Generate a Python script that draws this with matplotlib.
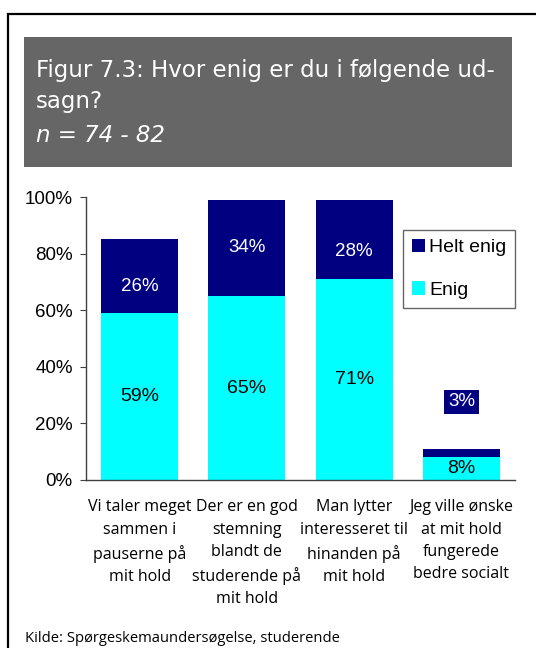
import matplotlib.pyplot as plt
import matplotlib.patches as mpatches
import numpy as np

categories = ['Vi taler meget\nsammen i\npauserne på\nmit hold',
              'Der er en god\nstemning\nblandt de\nstuderende på\nmit hold',
              'Man lytter\ninteresseret til\nhinanden på\nmit hold',
              'Jeg ville ønske\nat mit hold\nfungerede\nbedre socialt']
enig = [59, 65, 71, 8]
helt_enig = [26, 34, 28, 3]
yticks = [0, 20, 40, 60, 80, 100]

W, H = 536, 648
fig = plt.figure(figsize=(W / 100, H / 100), dpi=100)

def fx(x):
    return x / W

def fy(y):
    return 1 - y / H

# outer frame
fig.patches.append(mpatches.Rectangle((fx(8), fy(700)), fx(600), fy(14) - fy(700),
                                      transform=fig.transFigure, fill=False,
                                      edgecolor='black', linewidth=1.6))
# title box
fig.patches.append(mpatches.Rectangle((fx(24), fy(167)), fx(512) - fx(24), fy(37) - fy(167),
                                      transform=fig.transFigure, facecolor='#666666',
                                      edgecolor='none'))
tfont = 'DejaVu Sans'
lfont = 'Open Sans'
fig.text(fx(36), fy(77), 'Figur 7.3: Hvor enig er du i følgende ud-', color='white',
         fontsize=16.5, family=tfont, va='baseline')
fig.text(fx(36), fy(108), 'sagn?', color='white',
         fontsize=16.5, family=tfont, va='baseline')
fig.text(fx(36), fy(142), 'n = 74 - 82', color='white',
         fontsize=16.5, family=tfont, style='italic', va='baseline')

ax = fig.add_axes([fx(86), fy(480), fx(515) - fx(86), fy(197) - fy(480)])
x = np.arange(len(categories))
e = np.array(enig) / 100
h = np.array(helt_enig) / 100
ax.bar(x, e, width=0.72, color='#00FFFF', label='Enig')
ax.bar(x, h, width=0.72, bottom=e, color='#000080', label='Helt enig')

ax.set_xlim(-0.5, 3.5)
ax.set_ylim(0, 1)
ax.set_yticks(np.array(yticks) / 100)
ax.set_yticklabels([f'{v}%' for v in yticks], family='Liberation Sans', fontsize=13.5)
ax.tick_params(axis='y', length=4.5, color='#404040', pad=5)
ax.set_xticks(x)
ax.set_xticklabels(categories, family=lfont, fontsize=11.5, linespacing=1.52, va='top')
ax.tick_params(axis='x', length=0, pad=14)
for s in ['top', 'right']:
    ax.spines[s].set_visible(False)
for s in ['left', 'bottom']:
    ax.spines[s].set_color('#404040')
    ax.spines[s].set_linewidth(1.0)

# labels nudged by hand in the original
nudge = [-0.037, 0.0, -0.042]
for i in range(len(categories)):
    ax.text(x[i], e[i] / 2, f'{enig[i]}%', ha='center', va='center',
            fontsize=14, family='Liberation Sans', color='black')
    if i < 3:
        ax.text(x[i], e[i] + h[i] / 2 + nudge[i], f'{helt_enig[i]}%', ha='center',
                va='center', fontsize=13.5, family='Liberation Sans', color='white')
    else:
        ax.text(x[i], 0.276, f'{helt_enig[i]}%', ha='center', va='center',
                fontsize=13.5, family='Liberation Sans', color='white',
                bbox=dict(boxstyle='square,pad=0.2', facecolor='#000080', edgecolor='none'))

handles, labels = ax.get_legend_handles_labels()
leg = ax.legend(handles[::-1], labels[::-1], loc='upper left',
                bbox_to_anchor=(fx(403), fy(230)), bbox_transform=fig.transFigure,
                prop={'family': 'Liberation Sans', 'size': 14}, frameon=True,
                fancybox=False, handlelength=0.66, handleheight=0.66,
                handletextpad=0.25, borderpad=0.45, labelspacing=1.3, borderaxespad=0)
leg.get_frame().set_edgecolor('#404040')
leg.get_frame().set_linewidth(1.0)

fig.text(fx(25), fy(638), 'Kilde: Spørgeskemaundersøgelse, studerende',
         fontsize=10.6, family=lfont, va='center')

fig.savefig('out.png', dpi=100)
